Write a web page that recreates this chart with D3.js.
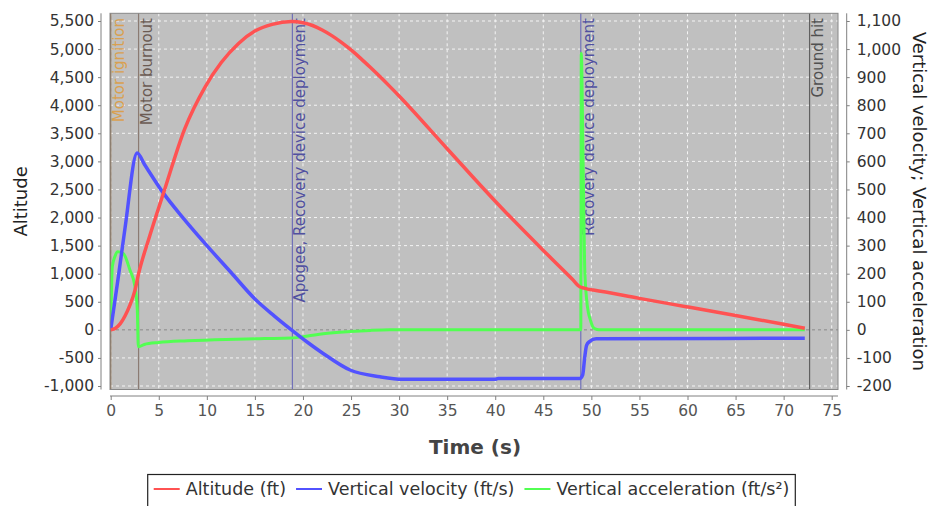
<!DOCTYPE html>
<html><head><meta charset="utf-8">
<script src="https://cdn.jsdelivr.net/npm/d3@7"></script>
<style>body{margin:0;background:#fff;} svg{display:block;font-family:"DejaVu Sans",sans-serif;}</style>
</head><body><svg id="c" width="929" height="506"></svg>
<script>
// ---------- data ----------
const timeTicks = [0,5,10,15,20,25,30,35,40,45,50,55,60,65,70,75];
const altTicks = [-1000,-500,0,500,1000,1500,2000,2500,3000,3500,4000,4500,5000,5500];
const rightTicks = [-200,-100,0,100,200,300,400,500,600,700,800,900,1000,1100];

const altTime   = [0, 0.5, 1.0, 1.5, 2.0, 2.5, 2.9, 4.0, 5.5, 7.7, 9.8, 11.5, 13.3, 15.0, 16.8, 18.8, 20.0, 21.0, 22.0, 23.0, 24.0, 25.0, 26.0, 27.0, 28.0, 29.0, 30.0, 35.0, 40.0, 45.0, 46.5, 48.0, 48.8, 49.2, 49.6, 50.2, 55.0, 60.0, 65.0, 70.0, 72.2];
const altValues = [0, 30, 110, 250, 440, 690, 1000, 1640, 2440, 3580, 4320, 4760, 5100, 5320, 5440, 5490, 5470, 5420, 5340, 5240, 5120, 4985, 4835, 4675, 4510, 4340, 4165, 3225, 2290, 1415, 1160, 905, 768, 745, 725, 709, 560, 408, 255, 100, 27];

const velTime   = [0, 0.8, 1.5, 2.75, 3.5, 5.5, 7.5, 9.8, 12.5, 15.0, 17.0, 18.8, 20.5, 22.1, 24.9, 28.0, 30.4, 40.0, 40.3, 48.8, 49.1, 49.3, 49.5, 49.8, 50.5, 72.2];
const velValues = [0, 190, 365, 630, 590, 486, 400, 308, 205, 110, 50, 0, -45, -84, -143, -167, -176, -176, -173, -173, -160, -100, -55, -42, -32, -30];

const accTime   = [0, 0.17, 0.45, 0.73, 1.31, 2.0, 2.53, 2.77, 2.87, 2.9, 3.5, 5.0, 8.0, 12.0, 16.0, 18.8, 20.5, 22.1, 24.9, 27.0, 29.0, 48.9, 48.95, 49.1, 49.2, 49.3, 49.5, 49.7, 49.9, 50.2, 50.6, 51.0, 72.2];
const accValues = [0, 225, 262, 278, 272, 213, 153, 70, -60, -60, -52, -45, -39, -34, -31, -29, -22, -14, -6, -2, 0, 0, 985, 700, 450, 230, 110, 60, 35, 8, 1, 0, 0];

const eventNames = ["Motor ignition", "Motor burnout", "Apogee, Recovery device deployment", "Recovery device deployment", "Ground hit"];
const eventTimes = [0.0, 2.9, 18.9, 48.9, 72.7];

const seriesNames = ["Altitude (ft)", "Vertical velocity (ft/s)", "Vertical acceleration (ft/s\u00B2)"];

// ---------- styles ----------
const seriesColors = ["#ff5252", "#5252ff", "#52ff52"];
const eventTextColors = ["#d9a050", "#6b5b53", "#5050a0", "#5050a0", "#505050"];
const eventLineColors = ["#8b6b4b", "#8b7b73", "#7070b8", "#7070b8", "#606060"];

// ---------- layout ----------
const svg = d3.select("#c");
const P = {left:110, right:838, top:13.3, bottom:389.5};
const x  = d3.scaleLinear().domain([0,75]).range([110.7, 831.7]);
const yL = d3.scaleLinear().domain([-1000,5500]).range([386, 21]);
const yR = d3.scaleLinear().domain([-200,1100]).range([386, 21]);
const fmt = v => d3.format(",")(v).replace("\u2212","-");

svg.append("rect").attr("x",0).attr("y",0).attr("width",929).attr("height",506).attr("fill","#fff");
svg.append("rect").attr("x",P.left).attr("y",P.top).attr("width",P.right-P.left).attr("height",P.bottom-P.top).attr("fill","#c0c0c0");

svg.append("defs").append("clipPath").attr("id","clip").append("rect")
  .attr("x",P.left).attr("y",P.top).attr("width",P.right-P.left).attr("height",P.bottom-P.top);

// grid
const g = svg.append("g");
g.selectAll(".vg").data(timeTicks).join("line")
  .attr("x1",d=>x(d)).attr("x2",d=>x(d)).attr("y1",P.top).attr("y2",P.bottom)
  .attr("stroke","#f4f4f4").attr("stroke-width",1).attr("stroke-dasharray","3,3");
g.selectAll(".hg").data(altTicks.filter(d=>d!==0)).join("line")
  .attr("x1",P.left).attr("x2",P.right).attr("y1",d=>yL(d)).attr("y2",d=>yL(d))
  .attr("stroke","#f4f4f4").attr("stroke-width",1).attr("stroke-dasharray","3,3");
// zero line
g.append("line").attr("x1",P.left).attr("x2",P.right).attr("y1",yL(0)).attr("y2",yL(0))
  .attr("stroke","#8a8a8a").attr("stroke-width",1).attr("stroke-dasharray","3,3");

// event lines
const ev = svg.append("g");
ev.selectAll("line").data(eventTimes).join("line")
  .attr("x1",d=>Math.max(x(d),P.left+0.5)).attr("x2",d=>Math.max(x(d),P.left+0.5))
  .attr("y1",P.top).attr("y2",P.bottom)
  .attr("stroke",(d,i)=>eventLineColors[i]).attr("stroke-width",1.2);

// series
const plotG = svg.append("g").attr("clip-path","url(#clip)");
const lineL = d3.line().x(d=>x(d[0])).y(d=>yL(d[1])).curve(d3.curveMonotoneX);
const lineR = d3.line().x(d=>x(d[0])).y(d=>yR(d[1])).curve(d3.curveMonotoneX);
plotG.append("path").datum(d3.zip(accTime,accValues)).attr("d",lineR)
  .attr("fill","none").attr("stroke",seriesColors[2]).attr("stroke-width",3).attr("stroke-linejoin","round");
plotG.append("path").datum(d3.zip(velTime,velValues)).attr("d",lineR)
  .attr("fill","none").attr("stroke",seriesColors[1]).attr("stroke-width",3.5).attr("stroke-linejoin","round");
plotG.append("path").datum(d3.zip(altTime,altValues)).attr("d",lineL)
  .attr("fill","none").attr("stroke",seriesColors[0]).attr("stroke-width",3.5).attr("stroke-linejoin","round");

// event labels
ev.selectAll("text").data(eventNames).join("text")
  .attr("transform",(d,i)=>`translate(${Math.max(x(eventTimes[i]),P.left)+13},18) rotate(-90)`)
  .attr("text-anchor","end").attr("font-size",15)
  .attr("fill",(d,i)=>eventTextColors[i]).text(d=>d);

// plot border
svg.append("rect").attr("x",P.left).attr("y",P.top).attr("width",P.right-P.left).attr("height",P.bottom-P.top)
  .attr("fill","none").attr("stroke","#888").attr("stroke-width",1);

// axes
const axisColor = "#808080";
const tickColor = "#333";
const leftAx = svg.append("g").attr("transform","translate(101,0)")
  .call(d3.axisLeft(yL).tickValues(altTicks).tickFormat(fmt).tickSize(3).tickPadding(4));
const rightAx = svg.append("g").attr("transform","translate(846.7,0)")
  .call(d3.axisRight(yR).tickValues(rightTicks).tickFormat(fmt).tickSize(3).tickPadding(7));
const botAx = svg.append("g").attr("transform","translate(0,396)")
  .call(d3.axisBottom(x).tickValues(timeTicks).tickFormat(d3.format("d")).tickSize(4).tickPadding(5));
[leftAx,rightAx,botAx].forEach(a=>{
  a.select(".domain").remove();
  a.selectAll(".tick line").attr("stroke",axisColor);
  a.selectAll(".tick text").attr("fill",tickColor).attr("font-size",15.5).attr("font-family","DejaVu Sans");
});
botAx.selectAll(".tick text").attr("fill","#555");
svg.append("line").attr("x1",101).attr("x2",101).attr("y1",P.top).attr("y2",P.bottom).attr("stroke",axisColor);
svg.append("line").attr("x1",846.7).attr("x2",846.7).attr("y1",P.top).attr("y2",P.bottom).attr("stroke",axisColor);
svg.append("line").attr("x1",P.left).attr("x2",P.right).attr("y1",396).attr("y2",396).attr("stroke",axisColor);

// axis titles
svg.append("text").attr("x",475).attr("y",454).attr("text-anchor","middle")
  .attr("font-size",20).attr("font-weight","bold").attr("fill","#444").text("Time (s)");
svg.append("text").attr("transform",`translate(27,${(P.top+P.bottom)/2}) rotate(-90)`)
  .attr("text-anchor","middle").attr("font-size",18).attr("fill","#222").text("Altitude");
svg.append("text").attr("transform",`translate(913,${(P.top+P.bottom)/2}) rotate(90)`)
  .attr("text-anchor","middle").attr("font-size",18).attr("fill","#222").text("Vertical velocity; Vertical acceleration");

// legend
const leg = svg.append("g");
const fs = 17.5, lineLen = 26, gapL = 6, gapItem = 10, pad = 6;
let cx = 0;
const items = [];
seriesNames.forEach((n,i)=>{
  const t = leg.append("text").attr("font-size",fs).attr("fill","#333").text(n);
  const w = t.node().getComputedTextLength();
  items.push({t, w, start:cx});
  cx += lineLen + gapL + w + gapItem;
});
const total = cx - gapItem;
const lx0 = 471.5 - total/2;
const ly = 495;
items.forEach((it,i)=>{
  const s = lx0 + it.start;
  leg.append("line").attr("x1",s).attr("x2",s+lineLen).attr("y1",ly-6).attr("y2",ly-6)
    .attr("stroke",seriesColors[i]).attr("stroke-width",2);
  it.t.attr("x", s+lineLen+gapL).attr("y", ly);
});
leg.insert("rect",":first-child").attr("x",lx0-pad).attr("y",474.5).attr("width",total+2*pad).attr("height",40)
  .attr("fill","#fff").attr("stroke","#222").attr("stroke-width",1.2);
</script>
</body></html>
